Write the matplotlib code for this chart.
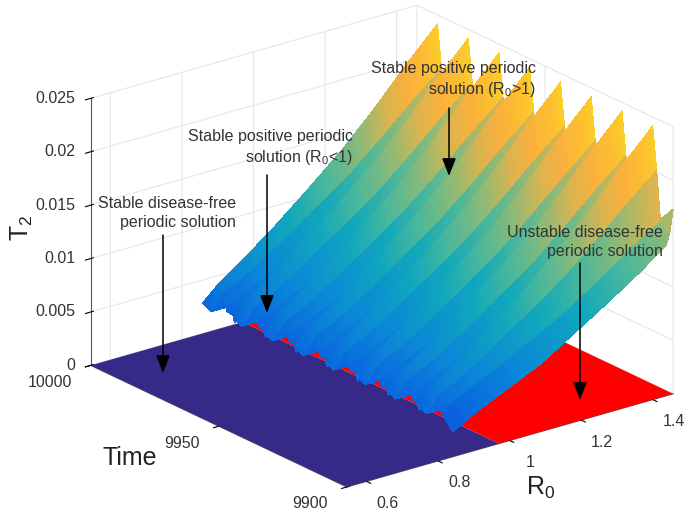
import numpy as np
import matplotlib
matplotlib.use("Agg")
import matplotlib.pyplot as plt
from matplotlib.colors import LinearSegmentedColormap
from mpl_toolkits.mplot3d import proj3d

plt.rcParams["font.family"] = ["Liberation Sans", "DejaVu Sans"]
plt.rcParams["mathtext.fontset"] = "custom"
plt.rcParams["mathtext.rm"] = "Liberation Sans"
plt.rcParams["mathtext.default"] = "regular"

# values
R0_lim = (0.545, 1.457)
time_lim = (9900, 10000)
R0_split = 0.97

R0_levels = [0.80, 0.846, 0.91, 1.0, 1.09, 1.19, 1.28, 1.37, 1.444, 1.457]
T2_ridge = [0.0043, 0.0057, 0.0072, 0.0095, 0.0120, 0.0149, 0.0179, 0.0212, 0.0237, 0.0242]
T2_trough = [0.0015, 0.0038, 0.0048, 0.0063, 0.0079, 0.0097, 0.0117, 0.0138, 0.0154, 0.0158]
T2_front = [0.0022, 0.0024, 0.0036, 0.0050, 0.0064, 0.0085, 0.0104, 0.0124, 0.0143, 0.0173]

peak_times = [9992, 9980, 9968, 9956, 9944, 9932, 9920, 9908]
peak_offsets = [0, -1.5, -3, -4, -8, -10.5]
peak_weight = [1.0, 0.55, 0.0, 0.03, 0.18, 0.5]
R0_start = [0.80, 0.813, 0.846, 0.84, 0.835, 0.815]
R0_start_front = 0.84

R0_ticks = [0.6, 0.8, 1, 1.2, 1.4]
R0_ticklabels = ["0.6", "0.8", "1", "1.2", "1.4"]
time_ticks = [9900, 9950, 10000]
T2_ticks = [0, 0.005, 0.01, 0.015, 0.02, 0.025]
T2_ticklabels = ["0", "0.005", "0.01", "0.015", "0.02", "0.025"]

surface_cmap = LinearSegmentedColormap.from_list("surface", [
    (0.0, "#0a50e0"), (0.12, "#0a5ce0"), (0.25, "#0a86d8"), (0.4, "#10a8bc"), (0.52, "#50b898"),
    (0.62, "#8cba78"), (0.72, "#d8b450"), (0.8, "#fab03c"), (0.88, "#fcc030"), (0.95, "#f8dc20"), (1.0, "#f8f010")])

# build the surface rows, from far time to near time
rows_t, rows_start, rows_w = [], [], []
for tp in peak_times:
    for off, w, s in zip(peak_offsets, peak_weight, R0_start):
        if tp + off > time_lim[0]:
            rows_t.append(tp + off)
            rows_start.append(s)
            rows_w.append(w)

grid_R0 = np.linspace(0.80, R0_lim[1], 70)
X = []
Z = []
for t, s, w in zip(rows_t, rows_start, rows_w):
    x = np.maximum(grid_R0, s)
    X.append(x)
    Z.append(np.interp(x, R0_levels, T2_trough) + w * (np.interp(x, R0_levels, T2_ridge) - np.interp(x, R0_levels, T2_trough)))
x = np.maximum(grid_R0, R0_start_front)
X.append(x)
Z.append(np.interp(x, R0_levels, T2_front))
rows_t.append(time_lim[0])
X = np.array(X)
Z = np.array(Z)
Y = np.repeat(np.array(rows_t)[:, None], len(grid_R0), axis=1)
Zc = (Z[:-1, :-1] + Z[1:, :-1] + Z[:-1, 1:] + Z[1:, 1:]) / 4
colors = surface_cmap(Zc / 0.0243)

fig = plt.figure(figsize=(6.86, 5.12), dpi=100)
ax = fig.add_axes([32 / 686, 3 / 512, 1, 1], projection="3d", computed_zorder=False)
ax.set_proj_type("ortho")
ax.view_init(elev=21.6, azim=-127.8)
ax.set_box_aspect((417, 422, 290), zoom=1.24)
ax.set_xlim(*R0_lim, view_margin=0)
ax.set_ylim(*time_lim, view_margin=0)
ax.set_zlim(0, 0.025, view_margin=0)

fx, fy = np.meshgrid([R0_lim[0], R0_split], time_lim)
floor_blue = ax.plot_surface(fx, fy, np.zeros_like(fx), color="#352a87", shade=False, zorder=1)
fx, fy = np.meshgrid([R0_split, R0_lim[1]], time_lim)
floor_red = ax.plot_surface(fx, fy, np.zeros_like(fx), color="#fe0000", shade=False, zorder=2)
surf = ax.plot_surface(X, Y, Z, facecolors=colors, rstride=1, cstride=1, shade=False, linewidth=0, antialiased=False, zorder=3)
for c in (floor_blue, floor_red, surf):
    c.set_clip_on(False)

ax.set_xticks(R0_ticks, [""] * len(R0_ticks))
ax.set_yticks(time_ticks, [""] * len(time_ticks))
ax.set_zticks(T2_ticks, [""] * len(T2_ticks))
for a in (ax.xaxis, ax.yaxis, ax.zaxis):
    a.set_pane_color((1, 1, 1, 0))
    a.pane.set_edgecolor("#e6e6e6")
    a.line.set_color("#555555")
    a._axinfo["grid"]["color"] = "#e6e6e6"
    a._axinfo["grid"]["linewidth"] = 0.8
    a._axinfo["tick"]["color"] = "#555555"


def tick_label(x3, y3, z3, label, dx, dy, ha):
    # tick labels sit at a fixed pixel offset from the tick
    px, py, _ = proj3d.proj_transform(x3, y3, z3, ax.get_proj())
    ax.annotate(label, (px, py), xytext=(dx, dy), textcoords="offset pixels", fontsize=11.5,
                color="#333333", ha=ha, va="center", annotation_clip=False)


for v, lab in zip(R0_ticks, R0_ticklabels):
    tick_label(v, time_lim[0], 0, lab, 21, -22, "center")
for v in time_ticks:
    tick_label(R0_lim[0], v, 0, str(v), -19, -17, "right")
for v, lab in zip(T2_ticks, T2_ticklabels):
    tick_label(R0_lim[0], time_lim[1], v, lab, -15, 0, "right")

fig.text(103 / 686, 1 - 458 / 512, "Time", fontsize=18, ha="left", va="center", color="#222222")
fig.text(22 / 686, 1 - 228 / 512, "T$_2$", fontsize=18, rotation=90, ha="center", va="center", color="#222222")
fig.text(541 / 686, 1 - 488 / 512, "R$_0$", fontsize=18, ha="center", va="center", color="#222222")

notes = [
    (236, 213, "Stable disease-free\nperiodic solution", 163, 235, 373),
    (353, 148, "Stable positive periodic\nsolution (R$_0$<1)", 267, 175, 313),
    (536, 80, "Stable positive periodic\nsolution (R$_0$>1)", 449, 108, 176),
    (663, 242, "Unstable disease-free\nperiodic solution", 580, 263, 400),
]
for tx, ty, label, ax_x, y0, y1 in notes:
    fig.text(tx / 686, 1 - ty / 512, label, fontsize=11.5, ha="right", va="center", color="#333333", linespacing=1.35)
    ax.annotate("", xy=(ax_x / 686, 1 - y1 / 512), xytext=(ax_x / 686, 1 - y0 / 512),
                xycoords="figure fraction", textcoords="figure fraction",
                arrowprops=dict(arrowstyle="-|>,head_length=0.9,head_width=0.35", color="black", lw=1.1, mutation_scale=12, shrinkA=0, shrinkB=0))

fig.savefig("out.png", dpi=100)
